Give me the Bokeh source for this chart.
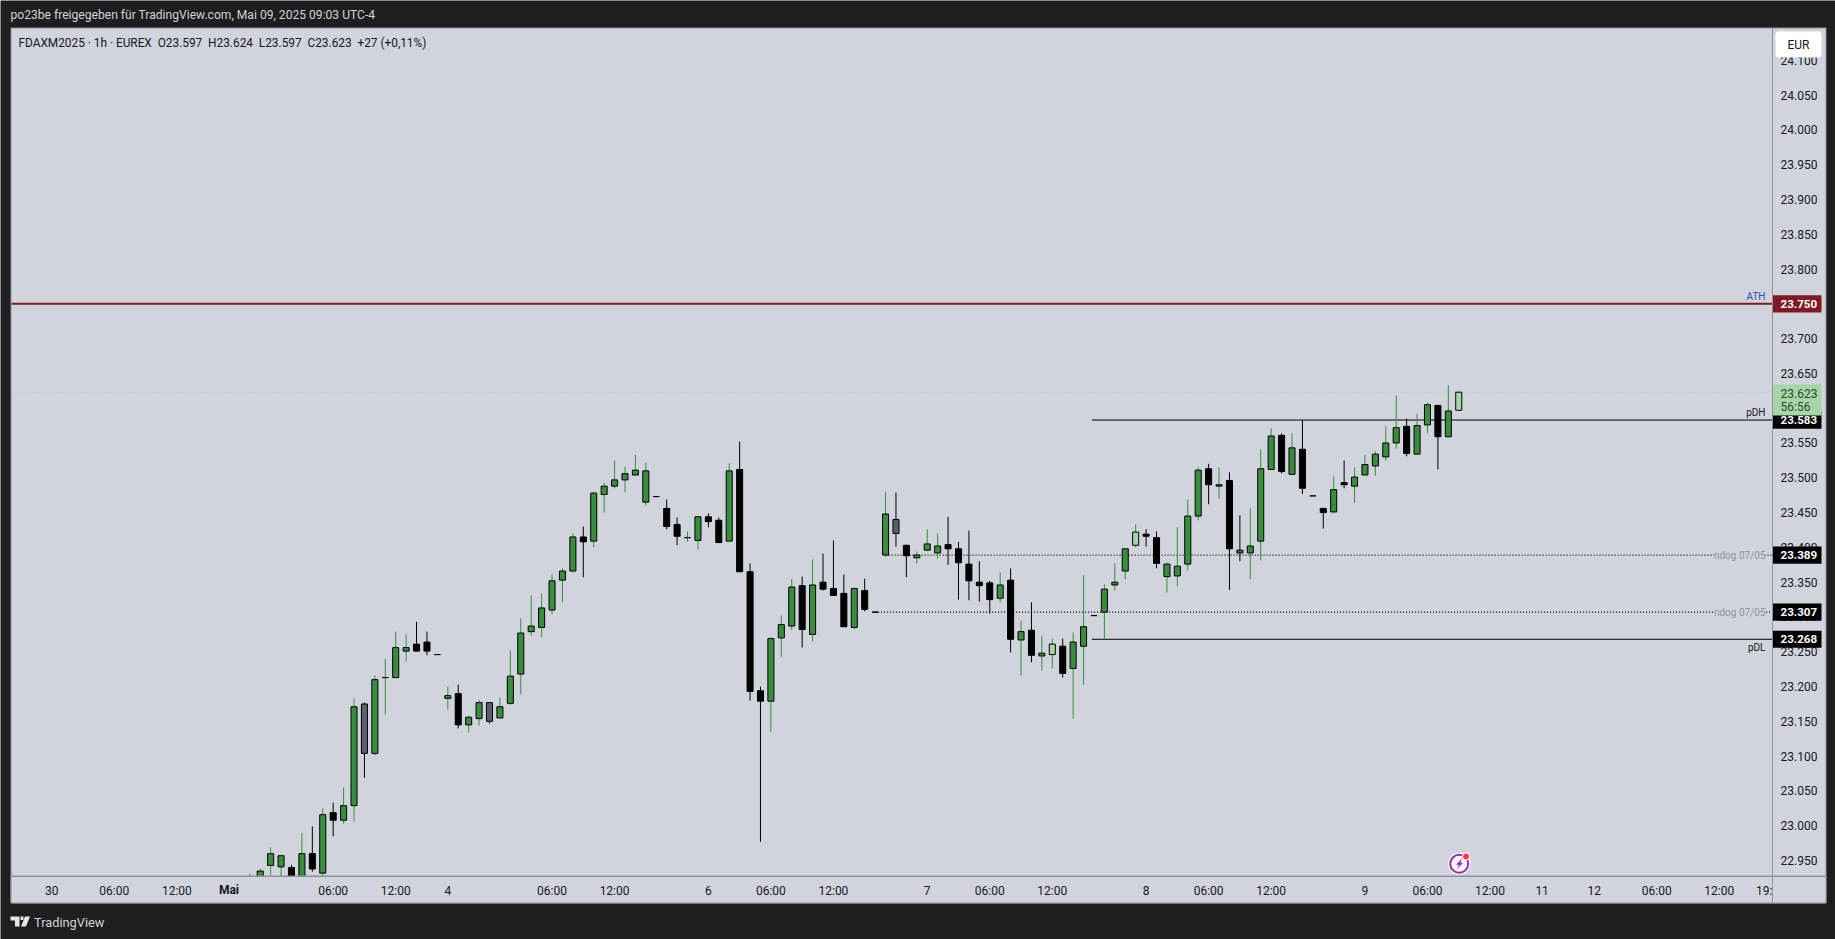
from bokeh.plotting import figure
from bokeh.models import (ColumnDataSource, FixedTicker, BoxAnnotation, Label, PolyAnnotation)
from bokeh.embed import file_html
from bokeh.resources import INLINE

# ---------- data ----------
opens = [22905,22915,22943,22957,22940,22920,22960,22932,23019,23008,
         23029,23175,23104,23213,23213,23256,23251,23264,23246,23183,
         23190,23145,23154,23177,23155,23176,23218,23279,23285,23310,
         23353,23366,23415,23409,23476,23488,23497,23504,23510,23473,
         23456,23433,23414,23410,23444,23439,23409,23512,23365,23194,
         23179,23270,23287,23345,23275,23350,23341,23334,23285,23338,
         23307,23389,23440,23403,23385,23396,23392,23404,23398,23376,
         23350,23349,23327,23353,23267,23281,23244,23246,23258,23226,
         23258,23302,23307,23346,23366,23403,23416,23414,23376,23359,
         23376,23445,23513,23488,23496,23396,23392,23409,23512,23561,
         23505,23541,23474,23456,23451,23493,23488,23504,23517,23530,
         23550,23574,23534,23576,23604,23559,23597]
highs = [22931,22938,22969,22957,22944,22990,22999,23025,23033,23055,
         23183,23177,23216,23240,23279,23275,23293,23279,23246,23200,
         23203,23158,23181,23177,23184,23252,23298,23331,23334,23361,
         23370,23420,23430,23480,23493,23525,23516,23533,23522,23473,
         23469,23443,23423,23444,23449,23443,23521,23552,23377,23200,
         23271,23302,23354,23358,23383,23391,23410,23361,23342,23355,
         23307,23480,23479,23404,23394,23426,23420,23444,23408,23424,
         23380,23352,23364,23370,23295,23321,23273,23269,23269,23278,
         23360,23302,23347,23377,23398,23433,23426,23423,23378,23429,
         23469,23515,23520,23515,23508,23446,23456,23541,23571,23564,
         23564,23583,23474,23456,23502,23525,23515,23533,23538,23574,
         23618,23585,23592,23608,23604,23633,23624]
lows = [22900,22905,22929,22920,22905,22912,22934,22927,22985,23003,
        23006,23069,23101,23160,23213,23236,23251,23245,23246,23167,
        23140,23134,23144,23147,23155,23174,23189,23273,23271,23304,
        23321,23364,23357,23400,23450,23485,23479,23504,23460,23473,
        23426,23403,23408,23397,23429,23406,23409,23365,23180,22977,
        23135,23243,23281,23256,23265,23338,23331,23286,23282,23308,
        23307,23387,23401,23357,23377,23396,23384,23375,23325,23324,
        23322,23305,23321,23249,23216,23235,23223,23226,23213,23154,
        23203,23302,23269,23338,23354,23400,23401,23370,23335,23344,
        23367,23439,23462,23470,23339,23380,23354,23381,23512,23506,
        23505,23477,23474,23427,23449,23485,23464,23504,23503,23525,
        23542,23531,23534,23564,23512,23558,23597]
closes = [22925,22935,22960,22941,22915,22960,22938,23016,23008,23029,
          23171,23104,23210,23213,23256,23251,23261,23251,23246,23187,
          23145,23156,23177,23150,23171,23215,23277,23287,23313,23352,
          23366,23415,23408,23478,23488,23497,23506,23511,23465,23473,
          23430,23416,23414,23444,23437,23407,23510,23365,23193,23179,
          23269,23289,23343,23282,23346,23340,23331,23286,23341,23311,
          23307,23448,23420,23388,23389,23405,23402,23398,23378,23352,
          23345,23325,23346,23268,23279,23245,23248,23261,23219,23264,
          23286,23302,23340,23350,23398,23422,23419,23377,23358,23373,
          23445,23511,23490,23490,23398,23392,23402,23513,23560,23509,
          23543,23485,23474,23450,23483,23490,23501,23519,23534,23550,
          23572,23535,23575,23605,23559,23596,23623]
styles = list("ggggkgkgkg"
              "gaggggkkkg"
              "kggagggggg"
              "ggkggggggk"
              "kkggkkgkkk"
              "gggkgkkkgk"
              "kgakgggkkk"
              "kkgkgkglkg"
              "gkggglkkgg"
              "ggkgkaggg"
              "kgkkkgkgggg"
              "gkggkgl")
price_ticks = [22950,23000,23050,23100,23150,23200,23250,23300,23350,23400,23450,23500,
               23550,23600,23650,23700,23750,23800,23850,23900,23950,24000,24050,24100]
price_labels = ["22.950","23.000","23.050","23.100","23.150","23.200","23.250","23.300",
                "23.350","23.400","23.450","23.500","23.550","23.600","23.650","23.700",
                "23.750","23.800","23.850","23.900","23.950","24.000","24.050","24.100"]
time_ticks = [-19,-13,-7,8,14,19,29,35,44,50,56,65,71,77,86,92,98,107,113,119,124,129,135,141,145.3]
time_labels = ["30","06:00","12:00","06:00","12:00","4","06:00","12:00","6","06:00","12:00",
               "7","06:00","12:00","8","06:00","12:00","9","06:00","12:00","11","12","06:00","12:00","19:"]
month_tick = -2
month_label = "Mai"
ath = 23750
pdh = 23583
pdl = 23268
ndog = [23389, 23307]
ndog_start = [61, 60]
level_start = 80.8
last_price = 23623

# ---------- layout helpers (reference pixels to data) ----------
W, H = 1835, 939
BAR = 10.422
PTS = 1.4368
xmin = -249.3 / BAR
xmax = xmin + W / BAR
ymax = 23750 + 303.3 * PTS
ymin = ymax - H * PTS
X = lambda px: xmin + px / BAR
Y = lambda py: ymax - py * PTS
Y_px = lambda v: (ymax - v) / PTS

FONT = "Roboto"
DARK = "#1e1e1e"
PANEL = "#d1d4dc"
EDGE = "#8f9299"
GREEN = "#388e3c"
LIGHT = "#a5d6a7"
GRAY = "#5d606b"
NB = "\u00a0\u00a0"

p = figure(width=W, height=H, output_backend="svg", toolbar_location=None,
           x_range=(xmin, xmax), y_range=(ymin, ymax), y_axis_location="right",
           min_border=0, background_fill_color=DARK, border_fill_color=DARK, outline_line_color=None)
p.grid.visible = False

for ax in (p.xaxis[0], p.yaxis[0]):
    ax.axis_line_color = EDGE
    ax.axis_line_width = 1
    ax.major_tick_line_color = None
    ax.minor_tick_line_color = None
    ax.major_tick_in = 0
    ax.major_tick_out = 0
    ax.major_label_text_color = "#131722"
    ax.major_label_text_font = FONT
    ax.major_label_text_font_size = "12px"
    ax.major_label_standoff = 8
p.yaxis[0].ticker = FixedTicker(ticks=price_ticks)
p.yaxis[0].major_label_overrides = dict(zip(price_ticks, price_labels))
p.yaxis[0].fixed_location = X(1772)
p.yaxis[0].bounds = (Y(902.5), Y(27.5))
p.xaxis[0].ticker = FixedTicker(ticks=time_ticks)
p.xaxis[0].major_label_overrides = dict(zip(time_ticks, time_labels))
p.xaxis[0].fixed_location = Y(875.5)
p.xaxis[0].bounds = (X(10.5), X(1825.5))

# chart panel
p.quad(left=[X(10.5)], right=[X(1825.5)], top=[Y(27.5)], bottom=[Y(902.5)],
       fill_color=PANEL, line_color=EDGE, line_width=1)

# levels under the candles
x0, x1 = X(11), X(1772)
p.line([x0, x1], [last_price, last_price], line_color=LIGHT, line_width=1, line_dash="1 2")
p.line([x0, x1], [ath, ath], line_color="#801922", line_width=2)
p.line([level_start, x1], [pdh, pdh], line_color="black", line_width=1)
p.line([level_start, x1], [pdl, pdl], line_color="black", line_width=1)
for lvl, st in zip(ndog, ndog_start):
    p.line([st, x1], [lvl, lvl], line_color="black", line_width=1.3, line_dash="1 2")

# candles
body_col = {"g": GREEN, "k": "black", "a": GRAY, "l": LIGHT}
wick_col = {"g": GREEN, "k": "black", "a": "black", "l": GREEN}
src = ColumnDataSource(dict(
    i=list(range(len(opens))),
    high=highs, low=lows,
    top=[max(a, b) for a, b in zip(opens, closes)],
    bottom=[min(a, b) for a, b in zip(opens, closes)],
    body=[body_col[s] for s in styles],
    wick=[wick_col[s] for s in styles],
))
p.segment("i", "high", "i", "low", source=src, line_color="wick", line_width=1)
p.vbar("i", 0.58, "top", "bottom", source=src, fill_color="body", line_color="black", line_width=1)

# flash icon
cx, cy = X(1458.7), Y(863.3)
p.scatter([cx], [cy], size=22, marker="circle", fill_color="white", line_color=None)
p.scatter([cx], [cy], size=18, marker="circle", fill_color=None, line_color="#9c27b0", line_width=2)
bolt = [(1461.7, 857.3), (1455.7, 864.3), (1458.7, 864.3), (1455.7, 869.3), (1462.7, 862.3), (1459.7, 862.3)]
p.patch([X(a) for a, b in bolt], [Y(b) for a, b in bolt], fill_color="#9c27b0", line_color=None)
p.scatter([X(1465.5)], [Y(856)], size=7, marker="circle", fill_color="#f23645", line_color="white")

# panel that covers anything past the time axis (drawn after the candles, below the axes)
p.quad(left=[X(10.5)], right=[X(1825.5)], top=[Y(875.5)], bottom=[Y(902.5)],
       fill_color=PANEL, line_color=EDGE, line_width=1)

def text(px, py, s, color="#131722", size="12px", align="left", style="normal", bg=None):
    p.add_layout(Label(x=X(px), y=Y(py), text=s, text_color=color, text_font=FONT,
                       text_font_size=size, text_align=align, text_baseline="middle",
                       text_font_style=style, background_fill_color=bg))

# tags on the price axis
def tag(price, s, bg, fg="white"):
    h = 8.6 * PTS
    p.add_layout(BoxAnnotation(left=X(1772.5), right=X(1821), top=price + h, bottom=price - h,
                               fill_color=bg, fill_alpha=1, line_color=None))
    text(1780, Y_px(price), s, color=fg, size="11.6px", style="bold")

tag(pdh, "23.583", "black")
tag(ndog[0], "23.389", "black")
tag(ndog[1], "23.307", "black")
tag(pdl, "23.268", "black")
tag(ath, "23.750", "#801922")
p.add_layout(BoxAnnotation(left=X(1772.5), right=X(1821), top=Y(384), bottom=Y(415),
                           fill_color=LIGHT, fill_alpha=1, line_color=None))
text(1780, 392.5, "23.623", color="#2a4a30")
text(1780, 406.5, "56:56", color="#2a4a30")

# EUR button
p.add_layout(BoxAnnotation(left=X(1775), right=X(1821), top=Y(31), bottom=Y(57), border_radius=3,
                           fill_color="white", fill_alpha=1, line_color=None))
text(1798, 44.5, "EUR", align="center")

# level captions
text(1765, 295.7, "ATH", color="#2f4fa8", size="10px", align="right")
text(1765, 411.7, "pDH", size="10px", align="right")
text(1765, 646.7, "pDL", size="10px", align="right")
for lvl in ndog:
    text(1765, Y_px(lvl), "ndog 07/05", color="#8f9299", size="10px", align="right", bg=PANEL)

# month label
text((month_tick - xmin) * BAR, 889, month_label, align="center", style="bold")

# title, legend, footer
text(10, 14.5, "po23be freigegeben für TradingView.com, Mai 09, 2025 09:03 UTC-4", color="#d1d4dc", size="12.1px")
text(18, 42, "FDAXM2025 · 1h · EUREX" + NB + "O23.597" + NB + "H23.624" + NB + "L23.597" + NB + "C23.623" + NB + "+27 (+0,11%)", size="11.85px")
text(33.5, 921.5, "TradingView", color="#d1d4dc", size="12.8px")
logo = [[(10, 916), (19, 916), (19, 926), (14.5, 926), (14.5, 920), (10, 920)],
        [(20, 916), (23, 916), (23, 919.5), (20, 919.5)],
        [(24.5, 916), (29.5, 916), (25.5, 926), (20.5, 926)]]
for poly in logo:
    p.add_layout(PolyAnnotation(xs=[X(a) for a, b in poly], ys=[Y(b) for a, b in poly],
                                fill_color="#e6e6e6", fill_alpha=1, line_color=None))

html = file_html(p, INLINE)
html = html.replace("<body>", '<body style="background:%s">' % DARK, 1)
open("out.html", "w", encoding="utf-8").write(html)
